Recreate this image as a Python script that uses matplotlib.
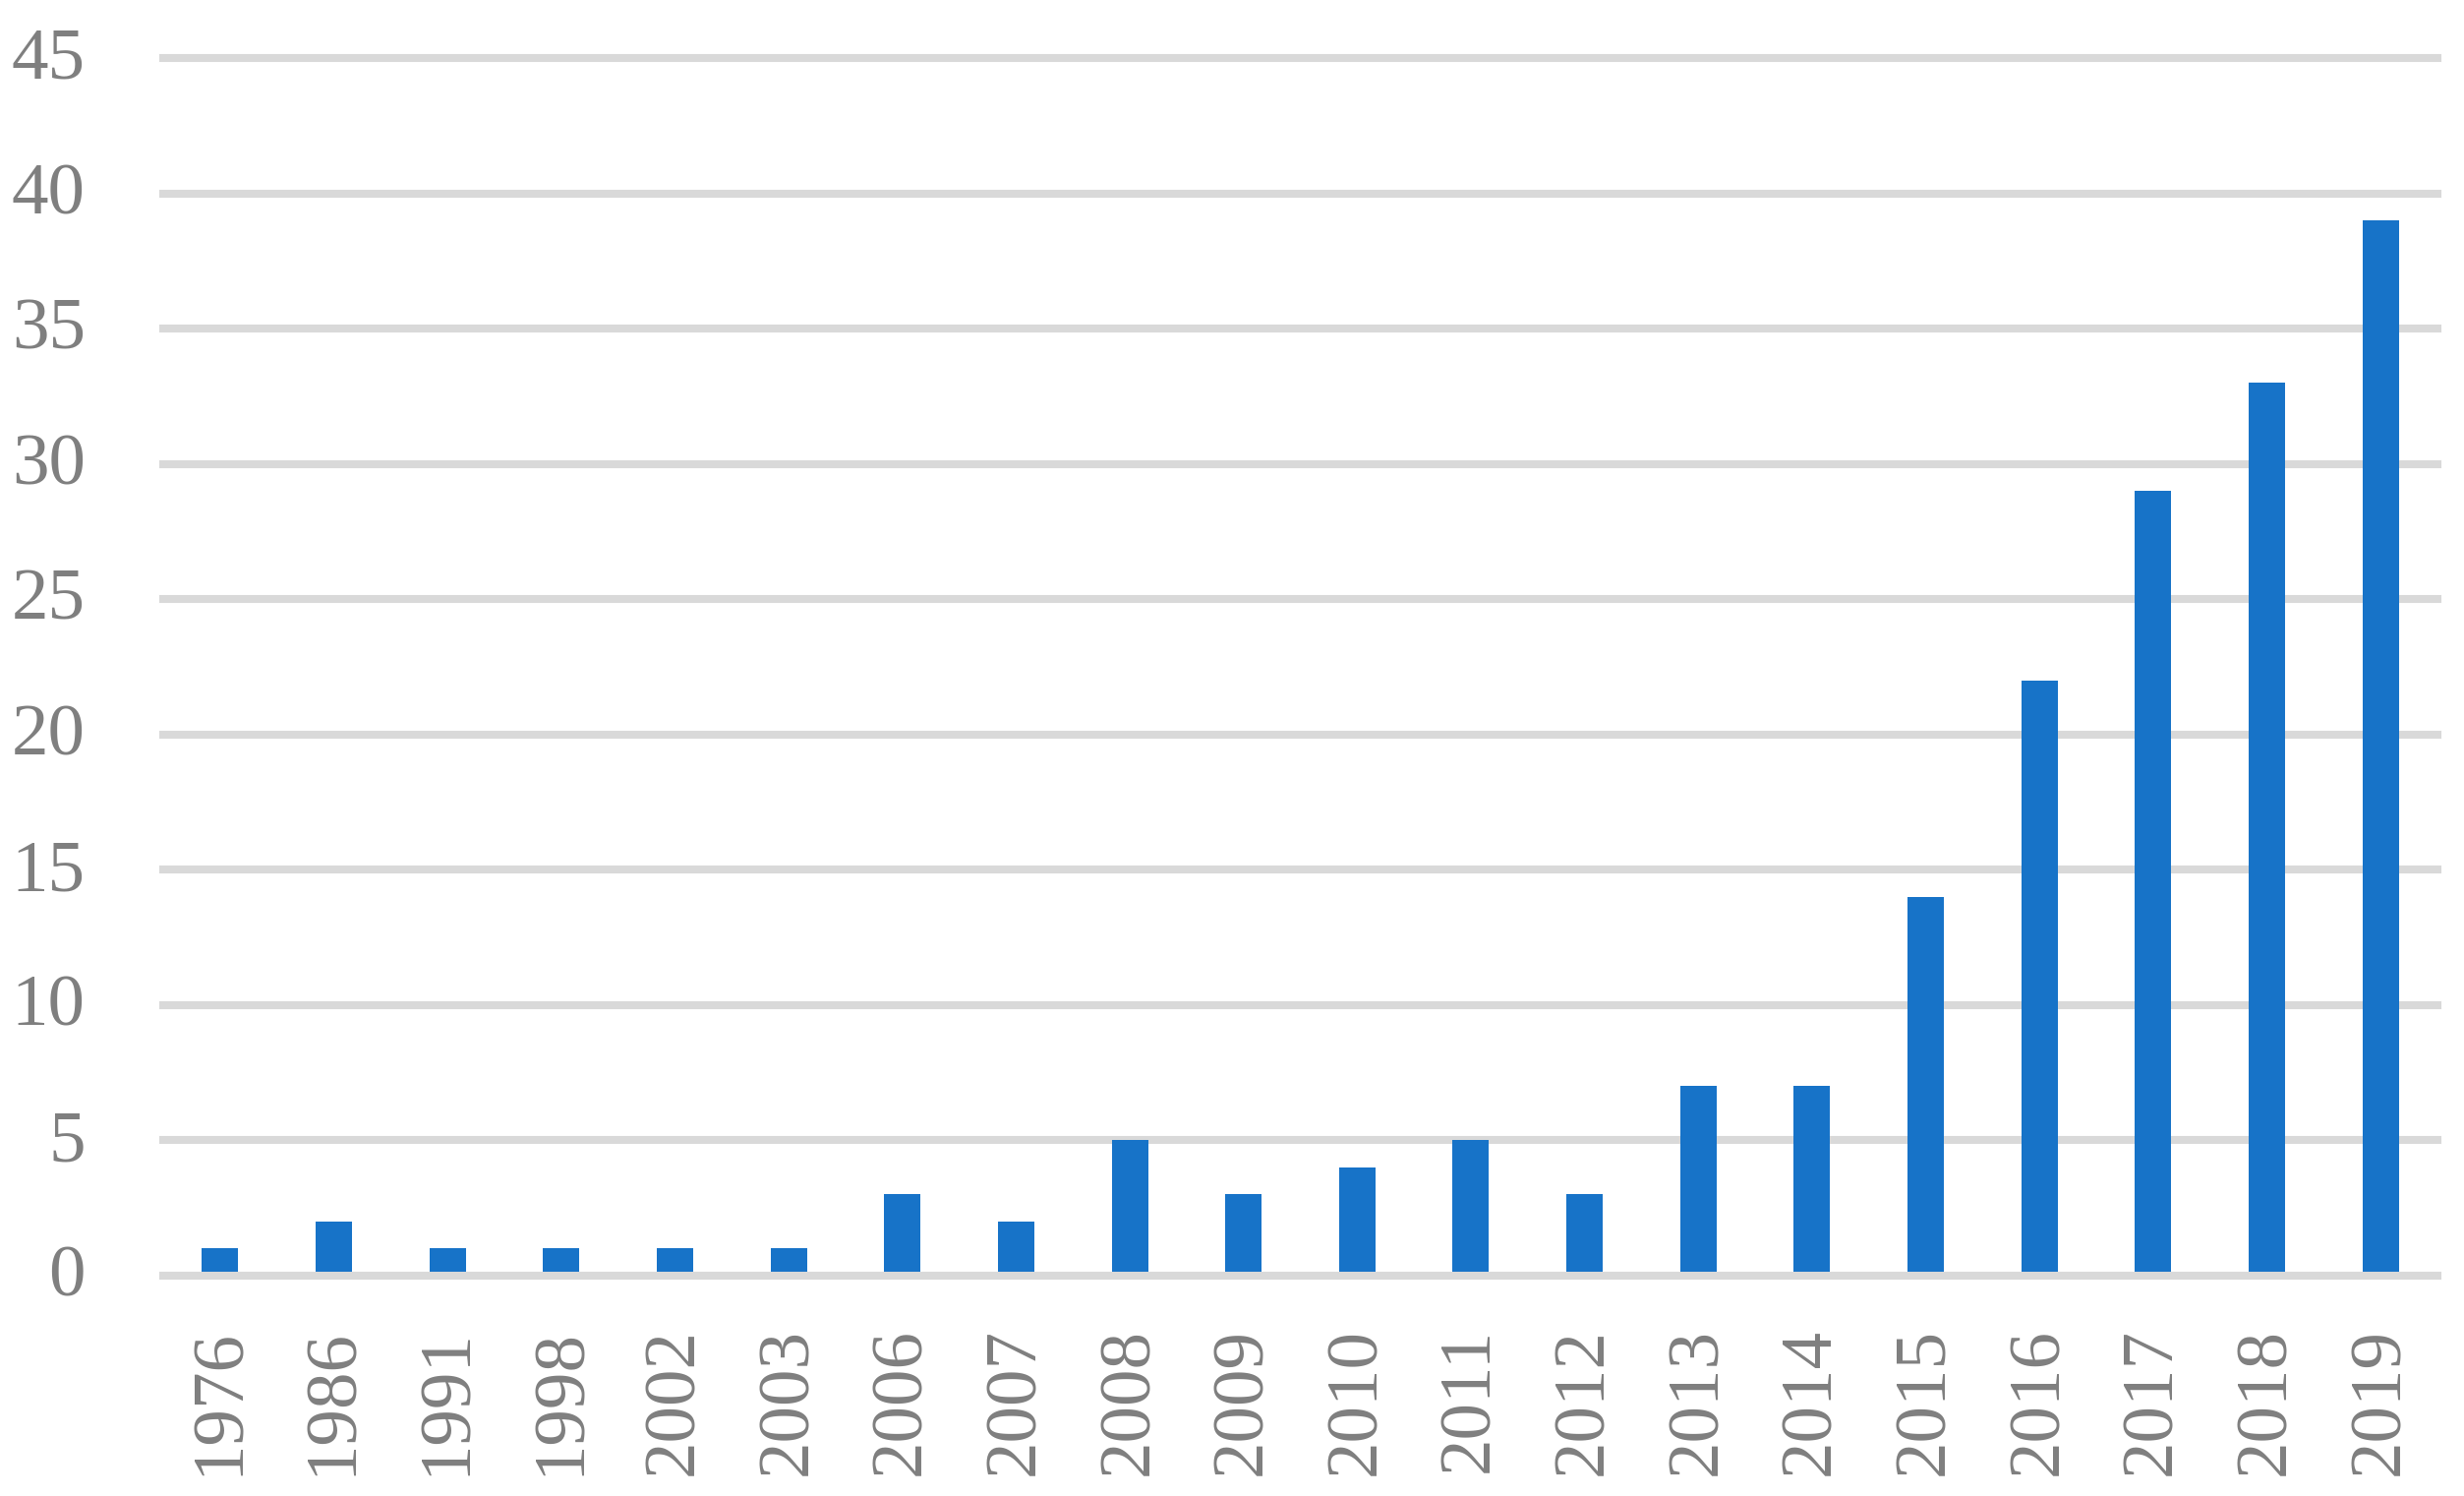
import matplotlib
matplotlib.use("Agg")
import matplotlib.pyplot as plt
from matplotlib.transforms import ScaledTranslation

years = ["1976", "1986", "1991", "1998", "2002", "2003", "2006", "2007", "2008", "2009",
         "2010", "2011", "2012", "2013", "2014", "2015", "2016", "2017", "2018", "2019"]
counts = [1, 2, 1, 1, 1, 1, 3, 2, 5, 3, 4, 5, 3, 7, 7, 14, 22, 29, 33, 39]
yticks = [0, 5, 10, 15, 20, 25, 30, 35, 40, 45]

plt.rcParams['font.family'] = ['Liberation Serif', 'DejaVu Serif']

fig = plt.figure(figsize=(25.06, 15.21), dpi=100)
ax = fig.add_axes([166/2506, 1 - 1297/1521, (2479 - 166)/2506, (1297 - 59)/1521])

x = list(range(len(years)))
ax.bar(x, counts, width=0.32, color="#1773C8", zorder=2)

for t in yticks:
    ax.axhline(t, color="#D9D9D9", linewidth=5.8, clip_on=False, zorder=3 if t == 0 else 1)

ax.set_xlim(-0.5, len(years) - 0.5)
ax.set_ylim(0, 45)
ax.set_yticks(yticks)
ax.set_yticklabels([str(t) for t in yticks])
ax.set_xticks(x)
ax.set_xticklabels(years, rotation=90, ha="center", va="top")

for s in ax.spines.values():
    s.set_visible(False)

ax.tick_params(axis="y", length=0, pad=57, labelsize=54, labelcolor="#7F7F7F")
ax.tick_params(axis="x", length=0, pad=38, labelsize=54, labelcolor="#7F7F7F")

shift = ScaledTranslation(0, 5 / 100, fig.dpi_scale_trans)
for lbl in ax.get_yticklabels():
    lbl.set_transform(lbl.get_transform() + shift)

fig.savefig("out.png", dpi=100, facecolor="white")
